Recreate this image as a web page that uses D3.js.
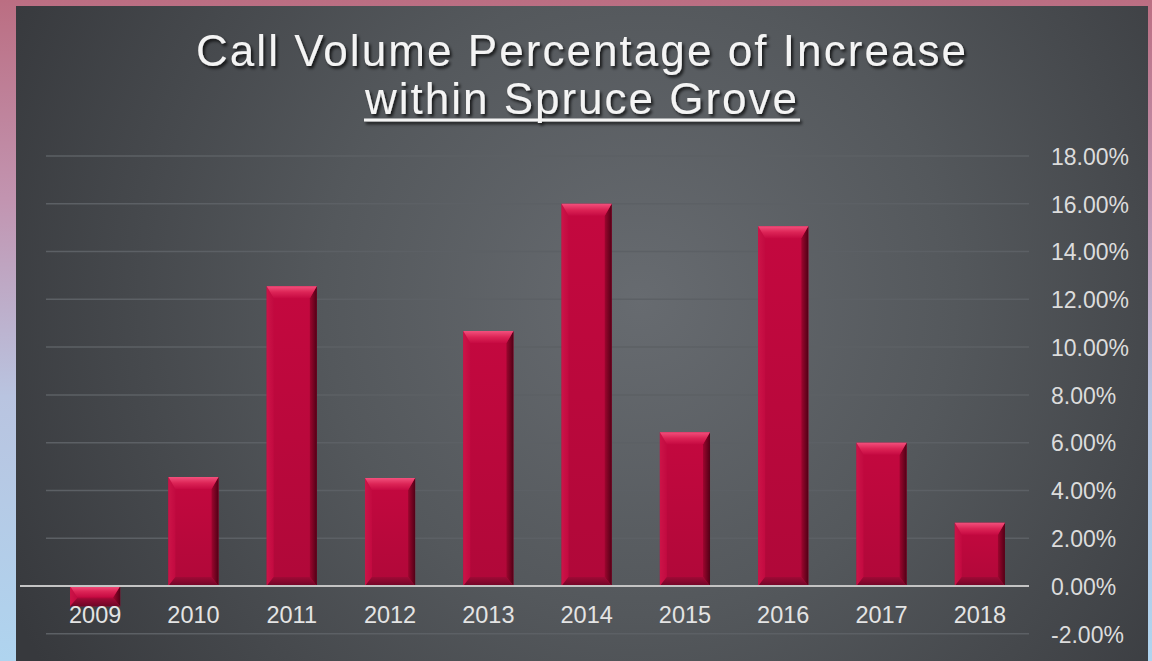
<!DOCTYPE html>
<html>
<head>
<meta charset="utf-8">
<script src="https://cdn.jsdelivr.net/npm/d3@7"></script>
<style>
  html, body { margin: 0; padding: 0; background: #fff; }
  svg { display: block; }
</style>
</head>
<body>
<svg id="chart" width="1152" height="661"></svg>
<script>
// Yearly increase in call volume (percent)
const years = ["2009", "2010", "2011", "2012", "2013", "2014", "2015", "2016", "2017", "2018"];
const increase = [-0.85, 4.56, 12.55, 4.52, 10.67, 16.0, 6.44, 15.06, 6.0, 2.65];
const yTicks = [-2, 0, 2, 4, 6, 8, 10, 12, 14, 16, 18];
const titleLines = ["Call Volume Percentage of Increase", "within Spruce Grove"];

const W = 1152, H = 661;
const svg = d3.select("#chart");
const defs = svg.append("defs");

// Frame gradient: rose at the top fading to pale blue
const frameGrad = defs.append("linearGradient").attr("id", "frame")
  .attr("x1", 0).attr("y1", 0).attr("x2", 0).attr("y2", 1);
[[0, "#bb6e82"], [0.3, "#c294b0"], [0.6, "#b9c4e0"], [1, "#afd4ef"]]
  .forEach(([o, c]) => frameGrad.append("stop").attr("offset", o).attr("stop-color", c));

// Panel: dark slate with a soft light spot in the middle
const panelGrad = defs.append("radialGradient").attr("id", "panel")
  .attr("gradientUnits", "userSpaceOnUse")
  .attr("cx", 640).attr("cy", 300).attr("r", 700);
[[0, "#676b70"], [0.45, "#54585c"], [1, "#37393d"]]
  .forEach(([o, c]) => panelGrad.append("stop").attr("offset", o).attr("stop-color", c));

// Bar faces
function lin(id, x2, y2, stops) {
  const g = defs.append("linearGradient").attr("id", id)
    .attr("x1", 0).attr("y1", 0).attr("x2", x2).attr("y2", y2);
  stops.forEach(([o, c]) => g.append("stop").attr("offset", o).attr("stop-color", c));
}
lin("barBody", 0, 1, [[0, "#c4083f"], [1, "#b00839"]]);
lin("bevTop", 0, 1, [[0, "#f2507c"], [0.5, "#dc2456"], [1, "#c60a42"]]);
lin("bevLeft", 1, 0, [[0, "#cc1448"], [1, "#c20a40"]]);
lin("bevRight", 1, 0, [[0, "#9c062e"], [1, "#520016"]]);
lin("bevBottom", 0, 1, [[0, "#a00a36"], [1, "#6e0626"]]);

const shadow = defs.append("filter").attr("id", "tshadow")
  .attr("x", "-10%").attr("y", "-30%").attr("width", "120%").attr("height", "160%");
shadow.append("feDropShadow").attr("dx", 2).attr("dy", 2.5)
  .attr("stdDeviation", 1.6).attr("flood-color", "#000").attr("flood-opacity", 0.75);

svg.append("rect").attr("width", W).attr("height", H).attr("fill", "url(#frame)");
svg.append("rect").attr("x", 16).attr("y", 6).attr("width", 1132).attr("height", H - 6)
  .attr("fill", "url(#panel)");

// Scales
const x = d3.scaleBand().domain(years).range([46, 1029])
  .paddingInner(0.49).paddingOuter(0.245);
const y = d3.scaleLinear().domain([-2, 18]).range([633.8, 156]);

// Gridlines
svg.append("g").selectAll("line").data(yTicks.filter(t => t !== 0)).join("line")
  .attr("x1", 46).attr("x2", 1029)
  .attr("y1", d => y(d)).attr("y2", d => y(d))
  .attr("stroke", "#5c6065").attr("stroke-width", 1.5);

// Right-hand value axis (plain hyphen for negatives)
const yAxis = d3.axisRight(y).tickValues(yTicks).tickSize(0).tickPadding(0)
  .tickFormat(d => d.toFixed(2) + "%");
const ya = svg.append("g").attr("transform", "translate(1051,0)").call(yAxis);
ya.select(".domain").remove();
ya.selectAll("text")
  .attr("fill", "#dcdcdc").attr("font-family", "'Liberation Sans', Arial, sans-serif")
  .attr("font-size", 23).attr("dy", "0.36em");

// Bars with bevelled faces
const barG = svg.append("g");
years.forEach((yr, i) => {
  const v = increase[i];
  const x0 = x(yr), w = x.bandwidth();
  const top = Math.min(y(v), y(0)), bot = Math.max(y(v), y(0));
  const h = bot - top;
  const bt = Math.min(12, h * 0.55);
  const bb = Math.min(9, h * 0.4);
  const bs = Math.min(7, w / 4);
  const g = barG.append("g");
  g.append("rect").attr("x", x0).attr("y", top).attr("width", w).attr("height", h)
    .attr("fill", "url(#barBody)");
  const x1 = x0 + w;
  const poly = (pts, fill) => g.append("polygon")
    .attr("points", pts.map(p => p.join(",")).join(" ")).attr("fill", fill);
  poly([[x0, top], [x0 + bs, top + bt], [x0 + bs, bot - bb], [x0, bot]], "url(#bevLeft)");
  poly([[x1, top], [x1 - bs, top + bt], [x1 - bs, bot - bb], [x1, bot]], "url(#bevRight)");
  poly([[x0, bot], [x0 + bs, bot - bb], [x1 - bs, bot - bb], [x1, bot]], "url(#bevBottom)");
  poly([[x0, top], [x1, top], [x1 - bs, top + bt], [x0 + bs, top + bt]], "url(#bevTop)");
});

// Zero line
svg.append("line").attr("x1", 20).attr("x2", 1029)
  .attr("y1", y(0)).attr("y2", y(0))
  .attr("stroke", "#c4c4c4").attr("stroke-width", 2.2);

// Category axis labels
const xAxis = d3.axisBottom(x).tickSize(0).tickPadding(0);
const xa = svg.append("g").attr("transform", `translate(0,${y(0) + 28.5})`).call(xAxis);
xa.select(".domain").remove();
xa.selectAll("text")
  .attr("fill", "#e4e4e4").attr("font-family", "'Liberation Sans', Arial, sans-serif")
  .attr("font-size", 23.5).attr("dy", "0.36em");

// Title
const tg = svg.append("g").attr("filter", "url(#tshadow)").attr("fill", "#f4f4f4")
  .attr("font-family", "'Liberation Sans', Arial, sans-serif").attr("font-size", 44);
tg.append("text").attr("x", 196).attr("y", 66).attr("textLength", 770)
  .attr("lengthAdjust", "spacing").text(titleLines[0]);
tg.append("text").attr("x", 365).attr("y", 113.5).attr("textLength", 432)
  .attr("lengthAdjust", "spacing").text(titleLines[1]);
tg.append("rect").attr("x", 364).attr("y", 118.5).attr("width", 436).attr("height", 3);
</script>
</body>
</html>
